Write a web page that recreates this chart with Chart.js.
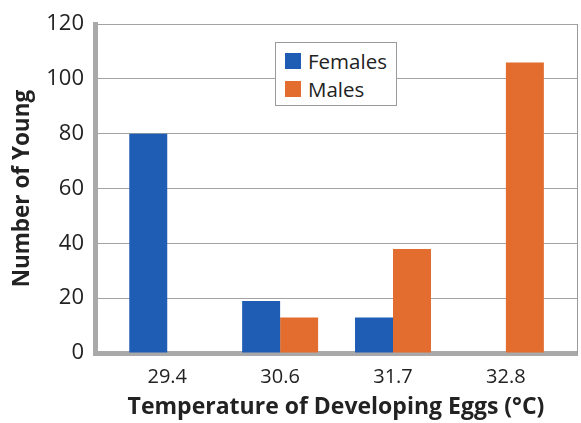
<!DOCTYPE html>
<html>
<head>
<meta charset="utf-8">
<script src="https://cdn.jsdelivr.net/npm/chart.js@4"></script>
<style>
  html, body { margin: 0; padding: 0; background: #fff; }
  #wrap { position: relative; width: 581px; height: 423px; }
  #legend {
    position: absolute; left: 275px; top: 42px; width: 122px; height: 64px;
    border: 1px solid #9a9a9a; background: #fff; box-sizing: border-box;
    font-family: "Open Sans", sans-serif; font-size: 20.5px; color: #222;
    padding: 4px 0 0 9px;
  }
  #legend div { display: flex; align-items: center; height: 28px; }
  #legend span.box { width: 16px; height: 16px; margin-right: 7px; }
</style>
</head>
<body>
<div id="wrap">
  <canvas id="chart" width="581" height="423"></canvas>
  <div id="legend"></div>
</div>
<script>
// data
const temps = ["29.4", "30.6", "31.7", "32.8"];
const females = [80, 19, 13, 0];
const males = [0, 13, 38, 106];

const seriesNames = ["Females", "Males"];
const seriesColors = ["#1f5db4", "#e36d2f"];

const FONT = "'Open Sans', sans-serif";

const datasets = [females, males].map((vals, si) => ({
    label: seriesNames[si],
    data: vals.map((v, i) => ({ x: i, y: v })),
    backgroundColor: seriesColors[si],
    borderWidth: 0,
    categoryPercentage: 0.673,
    barPercentage: 1.0
}));

// html legend inside the plot
const legendEl = document.getElementById("legend");
seriesNames.forEach((name, i) => {
    const row = document.createElement("div");
    row.innerHTML = `<span class="box" style="background:${seriesColors[i]}"></span>${name}`;
    legendEl.appendChild(row);
});

new Chart(document.getElementById("chart"), {
    type: "bar",
    data: { datasets },
    options: {
        responsive: false,
        animation: false,
        layout: { padding: { top: 20, right: 4, left: 0, bottom: 0 } },
        plugins: { legend: { display: false }, tooltip: { enabled: false } },
        scales: {
            x: {
                type: "linear",
                offset: false,
                min: -0.64,
                max: 3.63,
                afterBuildTicks: s => { s.ticks = temps.map((_, i) => ({ value: i })); },
                afterFit: s => { s.height = 70; },
                grid: { display: false, offset: false },
                border: { color: "#a9a9a9", width: 5 },
                ticks: {
                    callback: v => temps[v],
                    color: "#222",
                    padding: 4,
                    font: { family: FONT, size: 20 }
                },
                title: {
                    display: true,
                    text: "Temperature of Developing Eggs (°C)",
                    color: "#222",
                    padding: { top: 2, bottom: 2 },
                    font: { family: FONT, size: 23, weight: "bold" }
                }
            },
            y: {
                min: 0,
                max: 120,
                afterFit: s => { s.width = 95; },
                ticks: {
                    stepSize: 20,
                    color: "#222",
                    padding: 11,
                    font: { family: FONT, size: 22 }
                },
                grid: {
                    color: "#a3a3a3",
                    lineWidth: 1,
                    drawTicks: false
                },
                border: { color: "#a9a9a9", width: 5 },
                title: {
                    display: true,
                    text: "Number of Young",
                    color: "#222",
                    padding: { top: 9, bottom: 0 },
                    font: { family: FONT, size: 22.5, weight: "bold" }
                }
            },
            yRight: {
                position: "right",
                min: 0,
                max: 120,
                afterFit: s => { s.width = 0; },
                ticks: { display: false },
                grid: { display: false },
                border: { color: "#9a9a9a", width: 1 }
            }
        }
    }
});
</script>
</body>
</html>
